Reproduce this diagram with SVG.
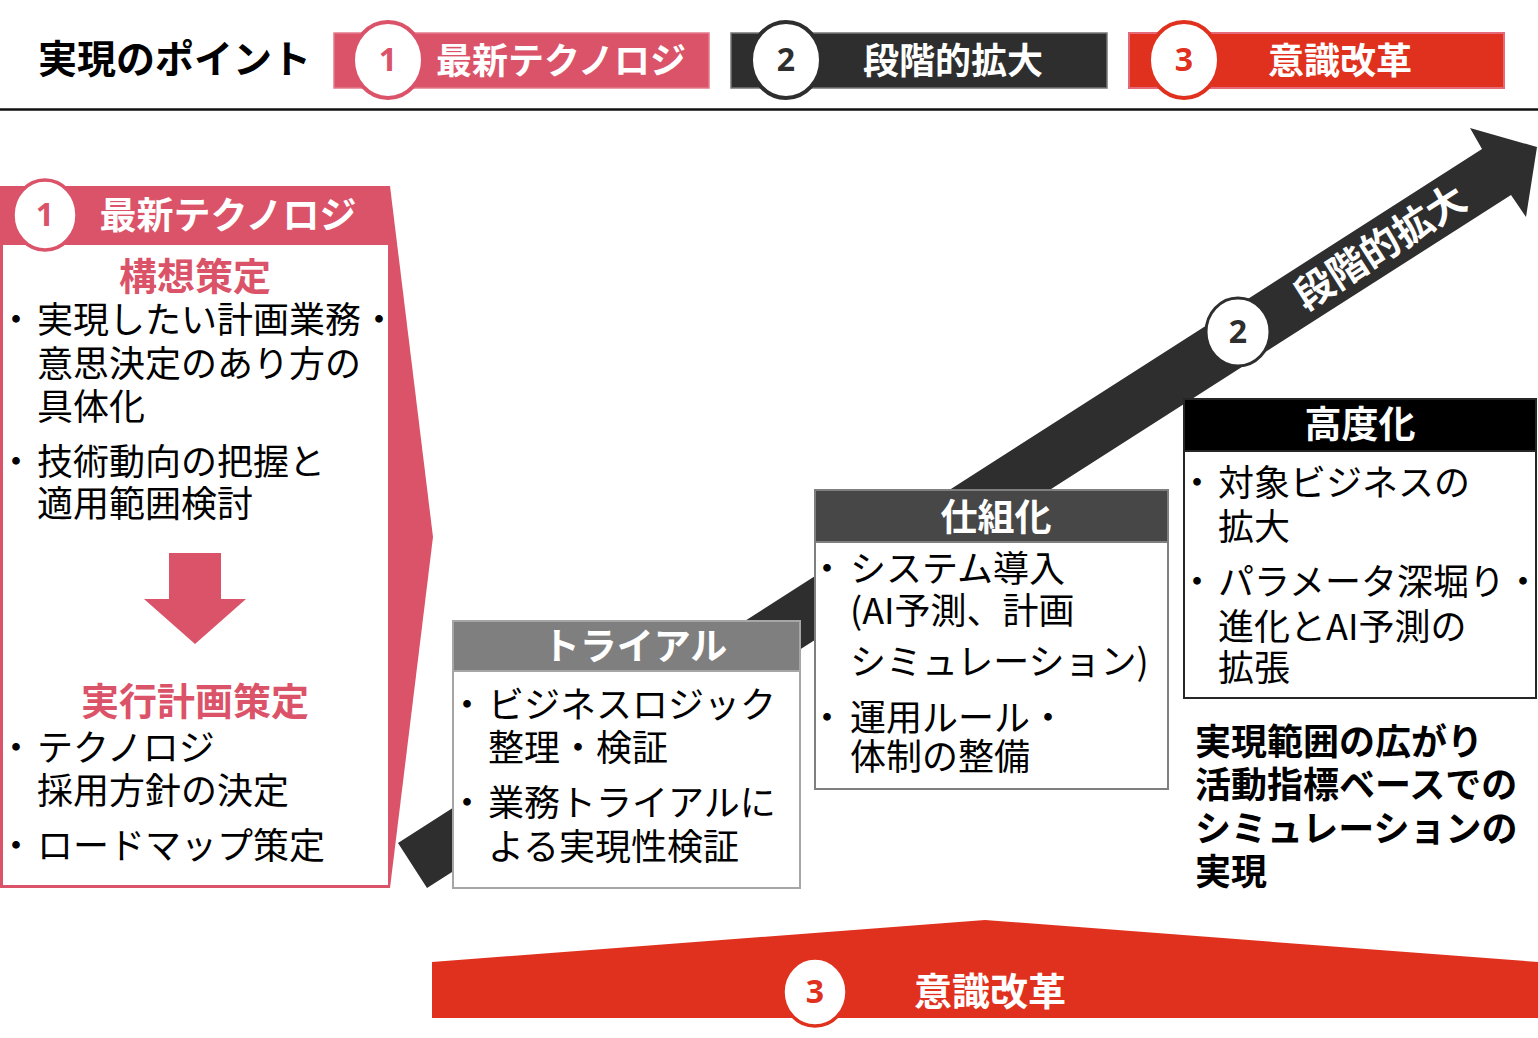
<svg xmlns="http://www.w3.org/2000/svg" width="1538" height="1038" viewBox="0 0 1538 1038">
<style>
text{font-family:"Noto Sans CJK JP","Noto Sans",sans-serif;}
.b{font-weight:700;}
.w{fill:#fff;}
.body{font-size:36px;fill:#000;}
.ttl{font-size:37px;font-weight:700;fill:#fff;text-anchor:middle;}
.pk{fill:#db5369;}
.ptl{font-size:38px;font-weight:700;fill:#db5369;}
.num{font-family:"Noto Sans","Open Sans",sans-serif;font-size:32px;font-weight:700;text-anchor:middle;}
</style>
<rect x="0" y="0" width="1538" height="1038" fill="#fff"/>

<!-- header -->
<g id="header-title"><text x="38" y="73" class="b" font-size="39" fill="#000">実現のポイント</text></g>
<g id="badge1">
<rect x="334" y="33" width="375" height="55" fill="#db5369" stroke="#e57a8a" stroke-width="1.5"/>
<ellipse cx="388" cy="60" rx="35" ry="38" fill="#fff" stroke="#db5369" stroke-width="4"/>
<text x="388" y="71" class="num pk">1</text>
<text x="561" y="74" class="b w" font-size="36" text-anchor="middle">最新テクノロジ</text>
</g>
<g id="badge2">
<rect x="731" y="33" width="376" height="55" fill="#2e2e2e" stroke="#777" stroke-width="1.5"/>
<ellipse cx="786" cy="60" rx="35" ry="38" fill="#fff" stroke="#2e2e2e" stroke-width="4"/>
<text x="786" y="71" class="num" fill="#2e2e2e">2</text>
<text x="953" y="74" class="b w" font-size="36" text-anchor="middle">段階的拡大</text>
</g>
<g id="badge3">
<rect x="1129" y="33" width="375" height="55" fill="#e0311f" stroke="#e46a78" stroke-width="2"/>
<ellipse cx="1184" cy="60" rx="35" ry="38" fill="#fff" stroke="#e0311f" stroke-width="4"/>
<text x="1184" y="71" class="num" fill="#e0311f">3</text>
<text x="1340" y="74" class="b w" font-size="36" text-anchor="middle">意識改革</text>
</g>
<line x1="0" y1="109.5" x2="1538" y2="109.5" stroke="#111" stroke-width="2.5"/>

<!-- connectors: main stage arrow -->
<g id="connectors">
<polygon points="398,843 1482,149 1470,128 1537,147 1526,217 1511,195 427,888" fill="#2e2e2e"/>
</g>

<!-- left panel -->
<g id="node-tech">
<polygon points="0,186 390,186 433,537 390,888 0,888" fill="#db5369"/>
<rect x="3" y="245" width="385" height="640" fill="#fff"/>
<ellipse cx="45" cy="215" rx="32" ry="35" fill="#fff" stroke="#db5369" stroke-width="3.5"/>
<text x="45" y="226" class="num pk">1</text>
<text x="228" y="229" class="ttl" font-size="38">最新テクノロジ</text>
<text class="body"><tspan class="ptl" x="195" y="290" text-anchor="middle">構想策定</tspan><tspan x="-2" y="333">・</tspan><tspan x="37" y="333">実現したい計画業務・</tspan><tspan x="37" y="377">意思決定のあり方の</tspan><tspan x="37" y="420">具体化</tspan><tspan x="-2" y="475">・</tspan><tspan x="37" y="475">技術動向の把握と</tspan><tspan x="37" y="517">適用範囲検討</tspan></text>
<polygon points="169,553 221,553 221,599 246,599 195,644 144,599 169,599" fill="#db5369"/>
<text class="body"><tspan class="ptl" font-size="39" x="195" y="715" text-anchor="middle">実行計画策定</tspan><tspan x="-2" y="761">・</tspan><tspan x="37" y="761">テクノロジ</tspan><tspan x="37" y="804">採用方針の決定</tspan><tspan x="-2" y="859">・</tspan><tspan x="37" y="859">ロードマップ策定</tspan></text>
</g>

<!-- trial -->
<g id="node-trial">
<rect x="453" y="621" width="347" height="267" fill="#fff" stroke="#a6a6a6" stroke-width="2"/>
<rect x="453" y="621" width="347" height="50" fill="#7f7f7f" stroke="#a6a6a6" stroke-width="2"/>
<text x="635" y="660" class="ttl" font-size="39">トライアル</text>
<text class="body"><tspan x="449" y="718">・</tspan><tspan x="488" y="718">ビジネスロジック</tspan><tspan x="488" y="761">整理・検証</tspan><tspan x="449" y="816">・</tspan><tspan x="488" y="816">業務トライアルに</tspan><tspan x="488" y="860">よる実現性検証</tspan></text>
</g>

<!-- shikumi -->
<g id="node-system">
<rect x="815" y="490" width="353" height="299" fill="#fff" stroke="#7f7f7f" stroke-width="2"/>
<rect x="815" y="490" width="353" height="52" fill="#474747" stroke="#7f7f7f" stroke-width="2"/>
<text x="996" y="531" class="ttl" font-size="38">仕組化</text>
<text class="body"><tspan x="809" y="582">・</tspan><tspan x="850" y="582">システム導入</tspan><tspan x="850" y="624">(AI予測、計画</tspan><tspan x="850" y="675">シミュレーション)</tspan><tspan x="809" y="731">・</tspan><tspan x="850" y="731">運用ルール・</tspan><tspan x="850" y="770">体制の整備</tspan></text>
</g>

<!-- koudo -->
<g id="node-advanced">
<rect x="1184" y="399" width="352" height="299" fill="#fff" stroke="#262626" stroke-width="2"/>
<rect x="1184" y="399" width="352" height="52" fill="#000" stroke="#262626" stroke-width="2"/>
<text x="1360" y="438" class="ttl" font-size="38">高度化</text>
<text class="body"><tspan x="1179" y="496">・</tspan><tspan x="1218" y="496">対象ビジネスの</tspan><tspan x="1218" y="540">拡大</tspan><tspan x="1179" y="595">・</tspan><tspan x="1218" y="595">パラメータ深堀り・</tspan><tspan x="1218" y="640">進化とAI予測の</tspan><tspan x="1218" y="681">拡張</tspan></text>
</g>

<g id="node-result">
<text class="b" font-size="36" fill="#000"><tspan x="1195" y="755">実現範囲の広がり</tspan><tspan x="1195" y="798">活動指標ベースでの</tspan><tspan x="1195" y="842">シミュレーションの</tspan><tspan x="1195" y="885">実現</tspan></text>
</g>

<!-- arrow label -->
<g id="node-stage">
<ellipse cx="1238" cy="332" rx="32" ry="34" fill="#fff" stroke="#2e2e2e" stroke-width="3"/>
<text x="1238" y="343" class="num" fill="#2e2e2e">2</text>
<g transform="translate(1380,247) rotate(-32.6)">
<text x="0" y="14" class="b w" font-size="39" text-anchor="middle">段階的拡大</text>
</g>
</g>

<!-- bottom banner -->
<g id="node-mindset">
<polygon points="432,962 985,920 1538,962 1538,1018 432,1018" fill="#e0311f"/>
<ellipse cx="815" cy="992" rx="32" ry="34" fill="#fff" stroke="#e0311f" stroke-width="3.5"/>
<text x="815" y="1003" class="num" fill="#e0311f">3</text>
<text x="990" y="1005" class="b w" font-size="38" text-anchor="middle">意識改革</text>
</g>
</svg>
